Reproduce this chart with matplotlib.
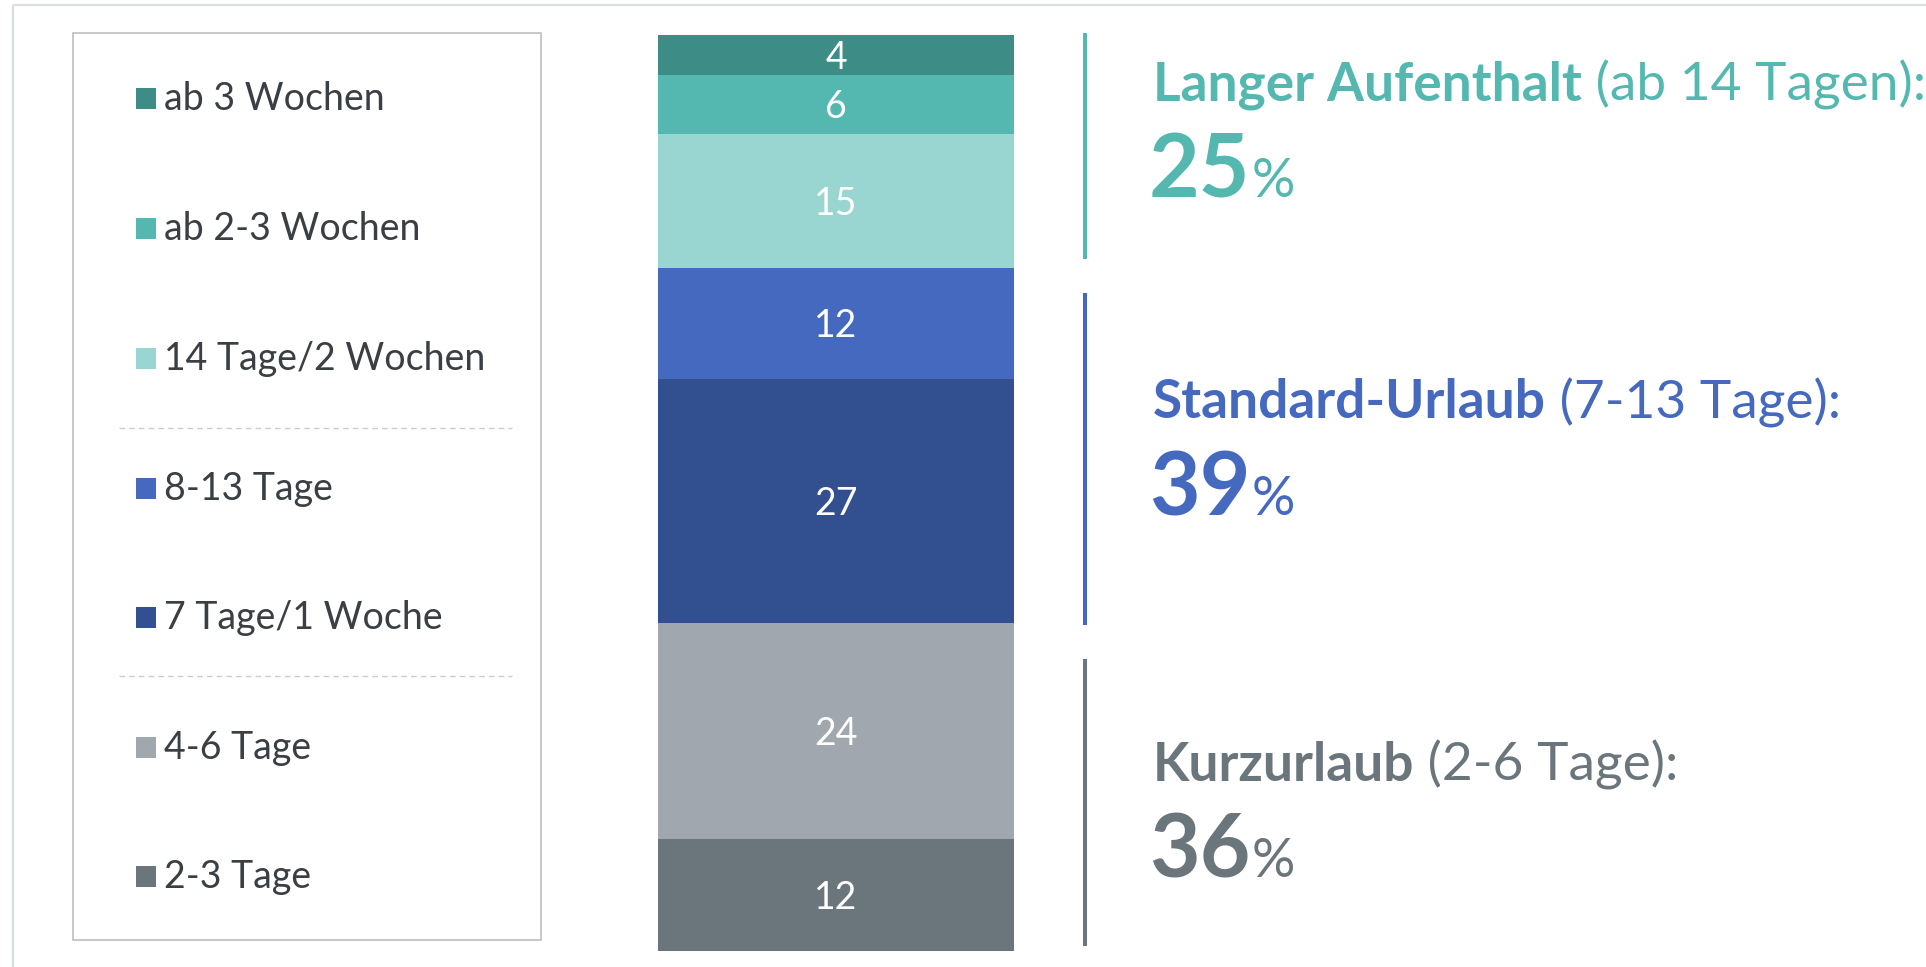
import matplotlib
matplotlib.use("Agg")
import matplotlib.pyplot as plt
from matplotlib.patches import Rectangle

plt.rcParams['font.family'] = ['Lato', 'DejaVu Sans']

# data (bottom to top of the stacked bar)
categories = ["2-3 Tage", "4-6 Tage", "7 Tage/1 Woche", "8-13 Tage",
              "14 Tage/2 Wochen", "ab 2-3 Wochen", "ab 3 Wochen"]
values = [12.2, 23.6, 26.6, 12.2, 14.6, 6.4, 4.4]
value_labels = ["12", "24", "27", "12", "15", "6", "4"]
colors = ["#6b767c", "#a0a7ae", "#324f8f", "#4469bf",
          "#9ad6d1", "#55b8b0", "#3d8c85"]

groups = ["Kurzurlaub", "Standard-Urlaub", "Langer Aufenthalt"]
group_ranges = [" (2-6 Tage):", " (7-13 Tage):", " (ab 14 Tagen):"]
group_shares = ["36", "39", "25"]
group_colors = ["#6b767c", "#4469bf", "#55b8b0"]

W, H = 1926, 967
DPI = 100
fig = plt.figure(figsize=(W / DPI, H / DPI), dpi=DPI)
fig.patch.set_facecolor("white")

# full-figure pixel axes for frame, legend and annotations
ax = fig.add_axes([0, 0, 1, 1])
ax.set_xlim(0, W)
ax.set_ylim(H, 0)
ax.axis("off")

# outer frame (top + left)
ax.plot([13, W], [5, 5], color="#d9dee3", lw=1.6, solid_capstyle="butt")
ax.plot([13, 13], [5, H], color="#d9dee3", lw=1.6, solid_capstyle="butt")

# stacked bar
bx0, bx1, by0, by1 = 658, 1014, 35, 951
bax = fig.add_axes([bx0 / W, 1 - by1 / H, (bx1 - bx0) / W, (by1 - by0) / H])
bottom = 0
for v, lab, c in zip(values, value_labels, colors):
    bax.bar(0, v, width=1, bottom=bottom, color=c, edgecolor="none")
    bax.annotate(lab, (0, bottom + v / 2), xytext=(0, -2),
                 textcoords="offset points", ha="center", va="center",
                 color="white", fontsize=27)
    bottom += v
bax.set_xlim(-0.5, 0.5)
bax.set_ylim(0, sum(values))
bax.axis("off")

# legend box
ax.add_patch(Rectangle((73, 33), 541 - 73, 940 - 33, fill=False,
                       edgecolor="#bfbfbf", lw=1.2))
legend_base = [888, 759, 629, 500, 370, 240, 110]
for cat, c, yb in zip(categories, colors, legend_base):
    ax.add_patch(Rectangle((136, yb - 22), 20, 21, facecolor=c,
                           edgecolor="none"))
    ax.text(164, yb, cat, ha="left", va="baseline", fontsize=27,
            color="#3a3f44")
for yd in (428, 676):
    ax.plot([119, 512], [yd, yd], color="#c8ccd0", lw=1.0,
            linestyle=(0, (4, 3)))

# group annotations
line_spans = [(659, 946), (293, 625), (33, 259)]
head_base = [781, 418, 100]
num_base = [877, 515, 197]
tx = 1153
fig.canvas.draw()
renderer = fig.canvas.get_renderer()
inv = ax.transData.inverted()
for g, rng, share, c, (l0, l1), hb, nb in zip(groups, group_ranges,
                                                group_shares, group_colors,
                                                line_spans, head_base, num_base):
    ax.plot([1085, 1085], [l0, l1], color=c, lw=2.9, solid_capstyle="butt")
    t1 = ax.text(tx, hb, g, ha="left", va="baseline", fontsize=38.3,
                 fontweight="bold", color=c)
    bb = t1.get_window_extent(renderer)
    x_end = inv.transform((bb.x1, bb.y0))[0]
    ax.text(x_end, hb, rng, ha="left", va="baseline", fontsize=38.3,
            color=c)
    t3 = ax.text(tx - 4, nb, share, ha="left", va="baseline", fontsize=63,
                 fontweight="bold", color=c)
    bb = t3.get_window_extent(renderer)
    x_end = inv.transform((bb.x1, bb.y0))[0]
    ax.text(x_end + 1, nb, "%", ha="left", va="baseline", fontsize=39,
            color=c)

fig.savefig("out.png", dpi=DPI, facecolor="white")
